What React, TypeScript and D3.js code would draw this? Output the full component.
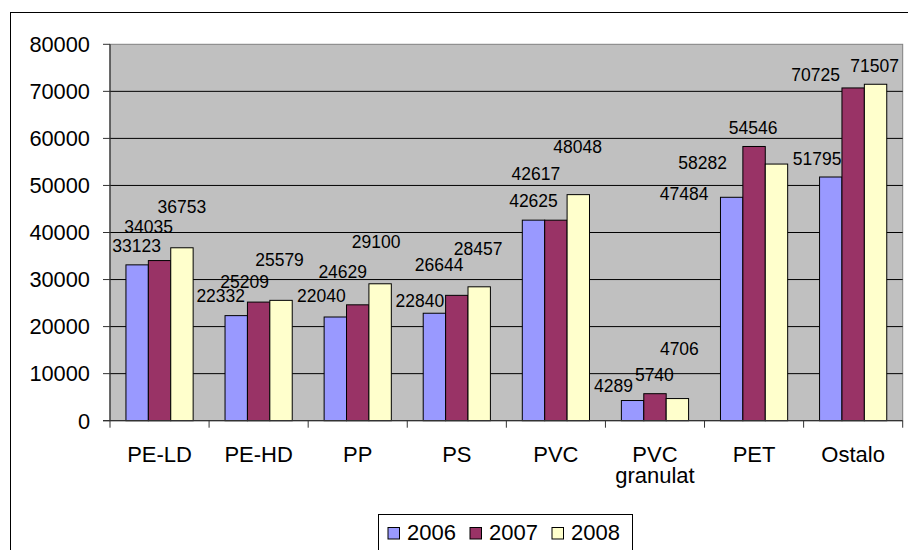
import React from "react";
import * as d3 from "d3";

const categories = ["PE-LD", "PE-HD", "PP", "PS", "PVC", "PVC\ngranulat", "PET", "Ostalo"];
const seriesNames = ["2006", "2007", "2008"];
const values2006 = [33123, 22332, 22040, 22840, 42625, 4289, 47484, 51795];
const values2007 = [34035, 25209, 24629, 26644, 42617, 5740, 58282, 70725];
const values2008 = [36753, 25579, 29100, 28457, 48048, 4706, 54546, 71507];
const yTicks = [0, 10000, 20000, 30000, 40000, 50000, 60000, 70000, 80000];

// Label placement offsets (px) from bar-top centre, as seen in reference
const labelDx2006 = [-0.5, -15.5, -14, -14.5, 0, -19, -47.6, -13.7];
const labelDy2006 = [-19, -20, -21, -12.4, -19, -15, -3.3, -18.3];
const labelDx2007 = [-11, -14, -15, -17.7, -20, -0.6, -51.4, -37.5];
const labelDy2007 = [-34, -20, -33, -31, -46, -19, 15.8, -13];
const labelDx2008 = [0, -1.5, -4, -1, -0.6, 2, -23.3, -1];
const labelDy2008 = [-41, -41, -42, -38.5, -48, -50, -36.5, -18.5];

const colors = ["#9999FF", "#993366", "#FFFFCC"];

export default function App() {
  const W = 908, H = 550;
  const left = 110, right = 902.7, top = 44.3, bottom = 420.7;
  const font = "'Liberation Sans', Arial, sans-serif";

  const x0 = d3.scaleBand<string>().domain(categories).range([left, right]).paddingInner(0).paddingOuter(0);
  const x1 = d3.scaleBand<string>().domain(seriesNames).range([0, x0.bandwidth()]).paddingInner(0).paddingOuter(0.712);
  const y = d3.scaleLinear().domain([0, 80000]).range([bottom, top]);

  const allValues = [values2006, values2007, values2008];
  const allDx = [labelDx2006, labelDx2007, labelDx2008];
  const allDy = [labelDy2006, labelDy2007, labelDy2008];

  return (
    <svg width={W} height={H} style={{ position: "absolute", left: 0, top: 0, background: "#fff" }} fontFamily={font}>
      {/* outer chart border */}
      <rect x={10.5} y={12.5} width={920} height={600} fill="#fff" stroke="#000" strokeWidth={1} />
      {/* plot area */}
      <rect x={left} y={top} width={right - left} height={bottom - top} fill="#C0C0C0" stroke="#808080" strokeWidth={1} />
      {/* gridlines */}
      {yTicks.filter((t) => t > 0 && t < 80000).map((t) => (
        <line key={t} x1={left} x2={right} y1={y(t)} y2={y(t)} stroke="#000" strokeWidth={1} />
      ))}
      {/* bars */}
      {categories.map((c, i) => (
        <g key={c}>
          {seriesNames.map((s, k) => {
            const v = allValues[k][i];
            const bx = (x0(c) as number) + (x1(s) as number);
            return (
              <rect key={s} x={bx} y={y(v)} width={x1.bandwidth()} height={bottom - y(v)}
                fill={colors[k]} stroke="#000" strokeWidth={1} />
            );
          })}
        </g>
      ))}
      {/* axes */}
      <line x1={left} x2={left} y1={top} y2={bottom} stroke="#333" strokeWidth={1.2} />
      <line x1={left - 7} x2={right} y1={bottom} y2={bottom} stroke="#333" strokeWidth={1.2} />
      {yTicks.map((t) => (
        <g key={t}>
          <line x1={left - 7} x2={left} y1={y(t)} y2={y(t)} stroke="#333" strokeWidth={1} />
          <text x={90} y={y(t)} dy="0.36em" textAnchor="end" fontSize={21.8} fill="#000">{t}</text>
        </g>
      ))}
      {categories.map((c, i) => (
        <line key={"t" + i} x1={(x0(c) as number)} x2={(x0(c) as number)} y1={bottom} y2={bottom + 7} stroke="#333" strokeWidth={1} />
      ))}
      <line x1={right} x2={right} y1={bottom} y2={bottom + 7} stroke="#333" strokeWidth={1} />
      {categories.map((c) => {
        const cx = (x0(c) as number) + x0.bandwidth() / 2;
        const lines = c.split("\n");
        return (
          <text key={"l" + c} x={cx} y={461.7} textAnchor="middle" fontSize={22} fill="#000">
            {lines.map((ln, j) => (
              <tspan key={j} x={cx} dy={j === 0 ? 0 : 21.5}>{ln}</tspan>
            ))}
          </text>
        );
      })}
      {/* data labels */}
      {categories.map((c, i) => (
        <g key={"dl" + c}>
          {seriesNames.map((s, k) => {
            const v = allValues[k][i];
            const cx = (x0(c) as number) + (x1(s) as number) + x1.bandwidth() / 2;
            return (
              <text key={s} x={cx + allDx[k][i]} y={y(v) + allDy[k][i] + 6.3} textAnchor="middle" fontSize={17.5} fill="#000">
                {v}
              </text>
            );
          })}
        </g>
      ))}
      {/* legend */}
      <rect x={378.5} y={514.5} width={254} height={50} fill="#fff" stroke="#000" strokeWidth={1} />
      {seriesNames.map((s, k) => {
        const sx = [388, 470, 552][k];
        return (
          <g key={"lg" + s}>
            <rect x={sx} y={527.5} width={11.5} height={11.5} fill={colors[k]} stroke="#000" strokeWidth={1} />
            <text x={sx + 19} y={540} fontSize={22} fill="#000">{s}</text>
          </g>
        );
      })}
    </svg>
  );
}
